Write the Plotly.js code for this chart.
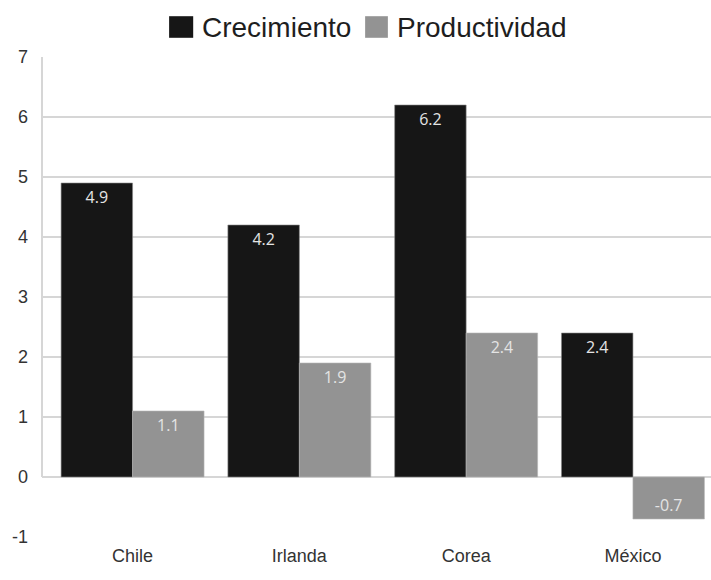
<!DOCTYPE html>
<html>
<head>
<meta charset="utf-8">
<script src="https://cdn.plot.ly/plotly-3.0.1.min.js"></script>
<style>html,body{margin:0;padding:0;background:#fff;}#chart{width:711px;height:580px;}</style>
</head>
<body>
<div id="chart"></div>
<script>
const categories = ["Chile", "Irlanda", "Corea", "México"];
const crecimiento = [4.9, 4.2, 6.2, 2.4];
const productividad = [1.1, 1.9, 2.4, -0.7];
const seriesNames = ["Crecimiento", "Productividad"];
const seriesColors = ["#161616", "#939393"];
const yTicks = [-1, 0, 1, 2, 3, 4, 5, 6, 7];

const fontFam = "'Liberation Sans', Arial, sans-serif";
const textFont = {family: "'Open Sans', 'Noto Sans', sans-serif", size: 16, color: "#e4e4e4"};

const traces = [crecimiento, productividad].map((vals, i) => ({
  type: "bar", name: seriesNames[i], x: categories, y: vals,
  marker: {color: seriesColors[i], line: {color: i === 0 ? "#8a8a8a" : "#b5b5b5", width: 0.6}},
  text: vals.map(v => v.toFixed(1)), textposition: "inside",
  insidetextanchor: "end", textangle: 0, textfont: textFont,
  hoverinfo: "x+y", showlegend: false
}));

// custom legend (large square swatches + real text)
const legendSwatchX = [[0.19, 0.226], [0.483, 0.517]];
const legendTextX = [0.2365, 0.528];
const legendShapes = seriesNames.map((n, i) => ({
  type: "rect", xref: "paper", yref: "paper",
  x0: legendSwatchX[i][0], x1: legendSwatchX[i][1], y0: 1.040, y1: 1.085,
  fillcolor: seriesColors[i], line: {width: 0}
}));
const legendAnnotations = seriesNames.map((n, i) => ({
  text: n, xref: "paper", yref: "paper", x: legendTextX[i], y: 1.0625,
  xanchor: "left", yanchor: "middle", showarrow: false,
  font: {family: fontFam, size: 28, color: "#1e1e1e"}
}));

const layout = {
  width: 711, height: 580,
  margin: {l: 42, r: 0, t: 57, b: 43, autoexpand: false},
  paper_bgcolor: "#ffffff", plot_bgcolor: "#ffffff",
  barmode: "group", bargap: 0.143, bargroupgap: 0,
  showlegend: false,
  xaxis: {
    type: "category", range: [-0.543, 3.468],
    showgrid: false, zeroline: false, showline: false, ticks: "",
    ticklabelstandoff: 6,
    tickfont: {family: fontFam, size: 18, color: "#333"},
    fixedrange: true
  },
  yaxis: {
    range: [-1, 7], tickvals: yTicks, ticktext: yTicks.map(String),
    showgrid: true, gridcolor: "#d6d6d6", gridwidth: 1.5,
    zeroline: true, zerolinecolor: "#d6d6d6", zerolinewidth: 1.5,
    showline: false, ticks: "", ticklabelstandoff: 13,
    tickfont: {family: fontFam, size: 18, color: "#333"},
    fixedrange: true
  },
  shapes: [
    {type: "line", xref: "paper", yref: "y", x0: 0, x1: 0, y0: 0, y1: 7,
     line: {color: "#c8c8c8", width: 1.5}, layer: "below"}
  ].concat(legendShapes),
  annotations: legendAnnotations
};

Plotly.newPlot("chart", traces, layout, {displayModeBar: false, staticPlot: true});
</script>
</body>
</html>
